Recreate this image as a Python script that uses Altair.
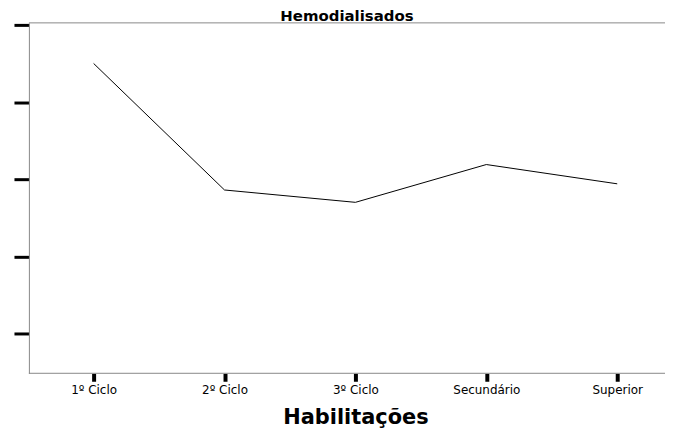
import altair as alt
import pandas as pd

categories = ["1º Ciclo", "2º Ciclo", "3º Ciclo", "Secundário", "Superior"]
values = [4.50, 2.86, 2.70, 3.19, 2.94]
y_ticks = [1, 2, 3, 4, 5]
y_domain = [0.484, 5.026]

df = pd.DataFrame({"hab": categories, "val": values})

W, H = 639, 352
FONT = "DejaVu Sans"

x_enc = alt.X(
    "hab:O",
    sort=categories,
    scale=alt.Scale(type="point", range=[65, 591], padding=0),
    axis=alt.Axis(
        title="Habilitações",
        titleFontSize=21,
        titleFont=FONT,
        titleFontWeight="bold",
        titleColor="black",
        titlePadding=11,
        labelAngle=0,
        labelFont=FONT,
        labelFontSize=12,
        labelColor="black",
        labelPadding=3,
        tickSize=8,
        tickWidth=4,
        tickColor="black",
        domain=False,
        grid=False,
    ),
)

y_enc = alt.Y(
    "val:Q",
    scale=alt.Scale(domain=y_domain, nice=False, zero=False),
    axis=alt.Axis(
        title=None,
        labels=False,
        values=y_ticks,
        tickSize=15,
        tickWidth=3,
        tickColor="black",
        domainColor="#888888",
        domainWidth=1,
        grid=False,
    ),
)

line = alt.Chart(df).mark_line(color="black", strokeWidth=1).encode(x=x_enc, y=y_enc)

borders = alt.Chart(pd.DataFrame({"v": y_domain})).mark_rule(
    color="#888888", strokeWidth=1
).encode(
    y=alt.Y("v:Q", scale=alt.Scale(domain=y_domain, nice=False, zero=False)),
    x=alt.value(0),
    x2=alt.value(W),
)

chart = (
    alt.layer(borders, line)
    .properties(
        width=W,
        height=H,
        background="white",
        padding={"left": 4, "right": 0, "top": 0, "bottom": 0},
        title=alt.TitleParams(
            "Hemodialisados",
            font=FONT,
            fontSize=15,
            fontWeight="bold",
            anchor="middle",
            offset=-2,
            color="black",
        ),
    )
    .configure_view(stroke="transparent", strokeWidth=0)
)

chart.save("out.html", embed_options={"renderer": "svg", "actions": False})
